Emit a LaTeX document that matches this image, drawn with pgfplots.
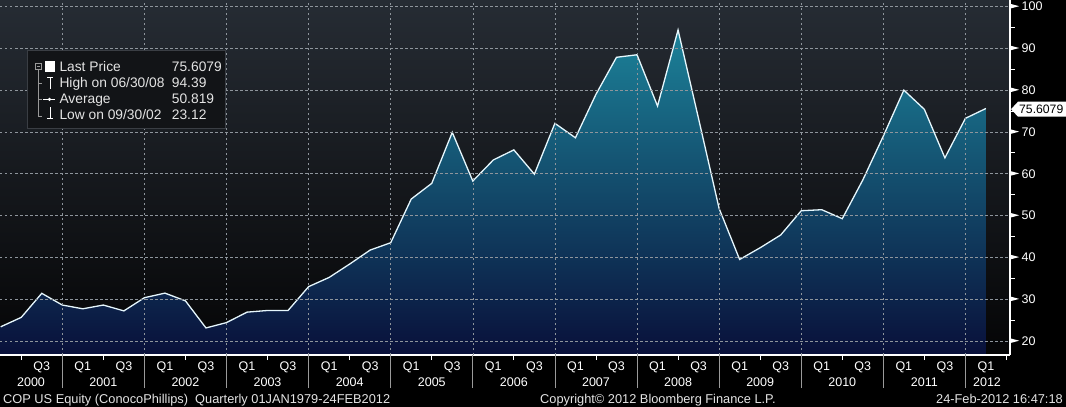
\documentclass[border=0pt]{standalone}
\usepackage{fontspec}
\setmainfont{Liberation Sans}
\usepackage{pgfplots}
\usepackage{pgfplotstable}
\pgfplotsset{compat=1.18}

\definecolor{bgtop}{HTML}{262C34}
\definecolor{bgbot}{HTML}{050506}
\definecolor{filltop}{HTML}{1C8299}
\definecolor{fillmid}{HTML}{0E4A6C}
\definecolor{fillbot}{HTML}{09103A}
\definecolor{gridc}{HTML}{8E959C}
\definecolor{sepc}{HTML}{9A9A9A}
\definecolor{txt}{HTML}{E4E4E4}
\definecolor{legbg}{HTML}{121417}
\definecolor{legbd}{HTML}{3A3E44}

% quarterly close, COP US Equity
\pgfplotstableread{
t v
2000.25 23.4
2000.50 25.65
2000.75 31.4
2001.00 28.6
2001.25 27.7
2001.50 28.6
2001.75 27.2
2002.00 30.35
2002.25 31.45
2002.50 29.6
2002.75 23.12
2003.00 24.4
2003.25 26.9
2003.50 27.3
2003.75 27.3
2004.00 33.0
2004.25 35.2
2004.50 38.4
2004.75 41.75
2005.00 43.5
2005.25 53.95
2005.50 57.7
2005.75 69.9
2006.00 58.25
2006.25 63.3
2006.50 65.7
2006.75 59.9
2007.00 72.05
2007.25 68.6
2007.50 79.0
2007.75 87.85
2008.00 88.45
2008.25 76.2
2008.50 94.39
2008.75 73.15
2009.00 51.7
2009.25 39.5
2009.50 42.3
2009.75 45.35
2010.00 51.15
2010.25 51.4
2010.50 49.25
2010.75 58.5
2011.00 69.0
2011.25 80.0
2011.50 75.4
2011.75 63.8
2012.00 73.25
2012.25 75.6079
}\cop

\newcommand{\tri}{\tikz[baseline=0pt]\fill[white] (0pt,2.35pt) -- (8.5pt,4.6pt) -- (0pt,6.85pt) -- cycle;}
\newcommand{\lblfont}{\fontsize{12.5}{14}\selectfont}

\begin{document}
\begin{tikzpicture}
\fill[black] (0pt,0pt) rectangle (1066pt,-407pt);
\useasboundingbox (0pt,0pt) rectangle (1066pt,-407pt);
\begin{axis}[
    at={(0pt,0pt)}, anchor=north west,
    width=1010pt, height=355pt, scale only axis,
    xmin=2000.2412, xmax=2012.543,
    ymin=16.65, ymax=101.55,
    clip=false, axis on top,
    axis background/.style={shade, top color=bgtop, bottom color=bgbot},
    axis x line*=bottom, axis y line*=right,
    axis line style={white, line width=1.2pt},
    tick align=outside,
    major tick length=0pt, minor tick length=5pt,
    xtick={2000.75,2001.25,2001.75,2002.25,2002.75,2003.25,2003.75,2004.25,2004.75,
           2005.25,2005.75,2006.25,2006.75,2007.25,2007.75,2008.25,2008.75,2009.25,
           2009.75,2010.25,2010.75,2011.25,2011.75,2012.25},
    xticklabels={Q3,Q1,Q3,Q1,Q3,Q1,Q3,Q1,Q3,Q1,Q3,Q1,Q3,Q1,Q3,Q1,Q3,Q1,Q3,Q1,Q3,Q1,Q3,Q1},
    minor xtick={2000.5,2001.5,2002.5,2003.5,2004.5,2005.5,2006.5,2007.5,2008.5,
                 2009.5,2010.5,2011.5,2012.5},
    ytick={20,30,40,50,60,70,80,90,100},
    minor ytick={25,35,45,55,65,75,85,95},
    major tick style={draw=none},
    minor tick style={white, line width=0.9pt},
    extra x ticks={2001,2002,2003,2004,2005,2006,2007,2008,2009,2010,2011,2012},
    extra x tick labels={},
    extra x tick style={major tick length=33pt, major tick style={draw=sepc, line width=0.8pt}, grid=major},
    ymajorgrids,
    grid style={gridc, line width=0.6pt, dash pattern=on 2.5pt off 2.5pt},
    every tick label/.append style={font=\lblfont, text=white},
    xticklabel style={anchor=base, yshift=-15.5pt},
    yticklabel style={anchor=west, inner sep=0pt, xshift=0.5pt},
    yticklabel={\tri\hspace{2.5pt}\pgfmathprintnumber[assume math mode=true]{\tick}},
]
\addplot[draw=none, shading=axis, top color=filltop, middle color=fillmid, bottom color=fillbot]
    table {\cop} -- (axis cs:2012.25,16.65) -- (axis cs:2000.25,16.65) -- cycle;
\addplot[color=white!90!cyan, line width=1.3pt] table {\cop};

\node[anchor=base, text=white, font=\lblfont, yshift=-31.7pt] at (axis cs:2000.619,16.65) {2000};
\pgfplotsinvokeforeach{2001,2002,2003,2004,2005,2006,2007,2008,2009,2010,2011}{
  \node[anchor=base, text=white, font=\lblfont, yshift=-31.7pt] at (axis cs:#1.5,16.65) {#1};
}
\node[anchor=base, text=white, font=\lblfont, yshift=-31.7pt] at (axis cs:2012.263,16.65) {2012};
\end{axis}

% last price tag
\fill[white] (1011pt,-109.2pt) -- (1018pt,-101.7pt) -- (1066pt,-101.7pt) -- (1066pt,-116.7pt) -- (1018pt,-116.7pt) -- cycle;
\node[anchor=base west, inner sep=0pt, text=black, font=\fontsize{12.2}{14}\selectfont] at (1019pt,-113.7pt) {75.6079};

% legend box
\fill[legbg, draw=legbd, line width=0.8pt] (27pt,-50pt) rectangle (225pt,-128pt);
\draw[gray!80, line width=0.7pt] (35pt,-63pt) rectangle (41pt,-69pt);
\draw[gray!80, line width=0.7pt] (36.5pt,-66pt) -- (39.5pt,-66pt);
\draw[gray!80, line width=0.7pt] (38pt,-69pt) -- (38pt,-116.5pt) -- (42pt,-116.5pt);
\draw[gray!80, line width=0.7pt] (38pt,-83pt) -- (42pt,-83pt);
\draw[gray!80, line width=0.7pt] (38pt,-99.3pt) -- (42pt,-99.3pt);
\fill[white] (44.5pt,-61pt) rectangle (55pt,-72pt);
\draw[white, line width=0.9pt] (47pt,-77.5pt) -- (53pt,-77.5pt) (50pt,-77.5pt) -- (50pt,-89pt);
\draw[white, line width=0.9pt] (43pt,-99.3pt) -- (55pt,-99.3pt);
\fill[white] (49.5pt,-99.3pt) circle (1.8pt);
\draw[white, line width=0.9pt] (50pt,-107pt) -- (50pt,-118.5pt) (47pt,-118.5pt) -- (53pt,-118.5pt);
\begin{scope}[every node/.style={anchor=base west, inner sep=0pt, text=txt, font=\fontsize{13.8}{15}\selectfont}]
\node at (59.3pt,-71.7pt) {Last Price};
\node at (171.7pt,-71.7pt) {75.6079};
\node at (59.3pt,-87.8pt) {High on 06/30/08};
\node at (171.7pt,-87.8pt) {94.39};
\node at (59.3pt,-103.6pt) {Average};
\node at (171.7pt,-103.6pt) {50.819};
\node at (59.3pt,-119.5pt) {Low on 09/30/02};
\node at (171.7pt,-119.5pt) {23.12};
\end{scope}

% footer
\begin{scope}[every node/.style={inner sep=0pt, text=txt, font=\fontsize{12.8}{14}\selectfont}]
\node[anchor=base west] at (3pt,-403.5pt) {COP US Equity (ConocoPhillips)\ \ Quarterly 01JAN1979-24FEB2012};
\node[anchor=base west] at (540pt,-403.5pt) {Copyright© 2012 Bloomberg Finance L.P.};
\node[anchor=base east] at (1063pt,-403.5pt) {24-Feb-2012 16:47:18};
\end{scope}
\end{tikzpicture}
\end{document}
